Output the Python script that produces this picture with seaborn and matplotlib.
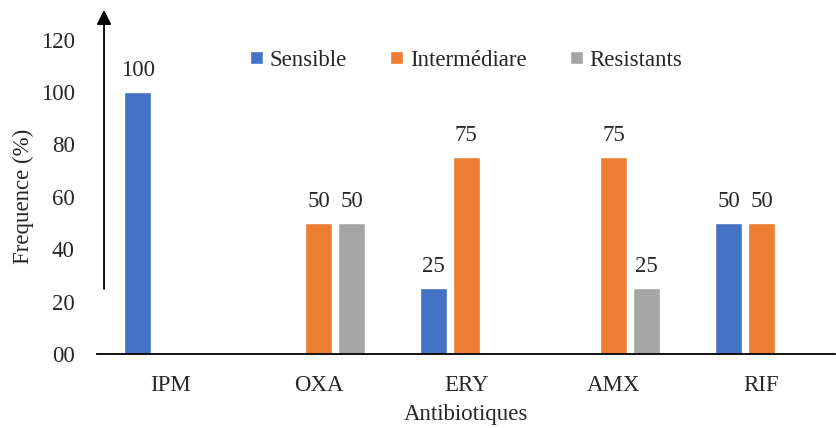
import pandas as pd
import matplotlib.pyplot as plt
import seaborn as sns

# Chart data
antibiotics = ["IPM", "OXA", "ERY", "AMX", "RIF"]
sensible = [100, 0, 25, 0, 50]
intermediaire = [0, 50, 75, 75, 50]
resistants = [0, 50, 0, 25, 0]
groups = ["Sensible", "Intermédiare", "Resistants"]
y_ticks = [0, 20, 40, 60, 80, 100, 120]
y_tick_labels = ["00", "20", "40", "60", "80", "100", "120"]
colors = ["#4472C4", "#ED7D31", "#A5A5A5"]

df = pd.DataFrame({
    "Antibiotiques": antibiotics * 3,
    "Groupe": [g for g in groups for _ in antibiotics],
    "Frequence": sensible + intermediaire + resistants,
})

sns.set_style("white")
plt.rcParams["font.family"] = ["Liberation Serif", "DejaVu Serif"]
fs = 16.5

fig = plt.figure(figsize=(8.37, 4.28), dpi=100)
ax = fig.add_axes([0.116, 0.173, 0.882, 0.7345])

sns.barplot(data=df, x="Antibiotiques", y="Frequence", hue="Groupe",
            hue_order=groups, palette=colors, width=0.67, gap=0.18,
            saturation=1, ax=ax)

for cont in ax.containers:
    labels = ["" if v == 0 else f"{v:g}" for v in cont.datavalues]
    ax.bar_label(cont, labels=labels, padding=8, fontsize=fs)

ax.set_ylim(0, 120)
ax.set_yticks(y_ticks)
ax.set_yticklabels(y_tick_labels, fontsize=fs)
ax.tick_params(axis="x", labelsize=fs, length=0, pad=15)
ax.tick_params(axis="y", length=0, pad=16)
ax.set_xlabel("Antibiotiques", fontsize=fs, labelpad=6)
ax.set_ylabel("Frequence (%)", fontsize=fs, labelpad=5)

for side in ["left", "top", "right"]:
    ax.spines[side].set_visible(False)
ax.spines["bottom"].set_color("black")
ax.spines["bottom"].set_linewidth(1.3)

# vertical arrow drawn over the plot
ax.annotate("", xy=(0.1243, 0.977), xytext=(0.1243, 0.325),
            xycoords="figure fraction", textcoords="figure fraction",
            arrowprops=dict(arrowstyle="-|>", color="black", lw=1.3,
                            mutation_scale=22, shrinkA=0, shrinkB=0))

leg = ax.legend(loc="center", bbox_to_anchor=(0.5, 0.935), ncol=3,
                frameon=False, fontsize=fs, handlelength=0.55, handleheight=0.55,
                handletextpad=0.3, columnspacing=1.9)

fig.savefig("out.png", dpi=100)
